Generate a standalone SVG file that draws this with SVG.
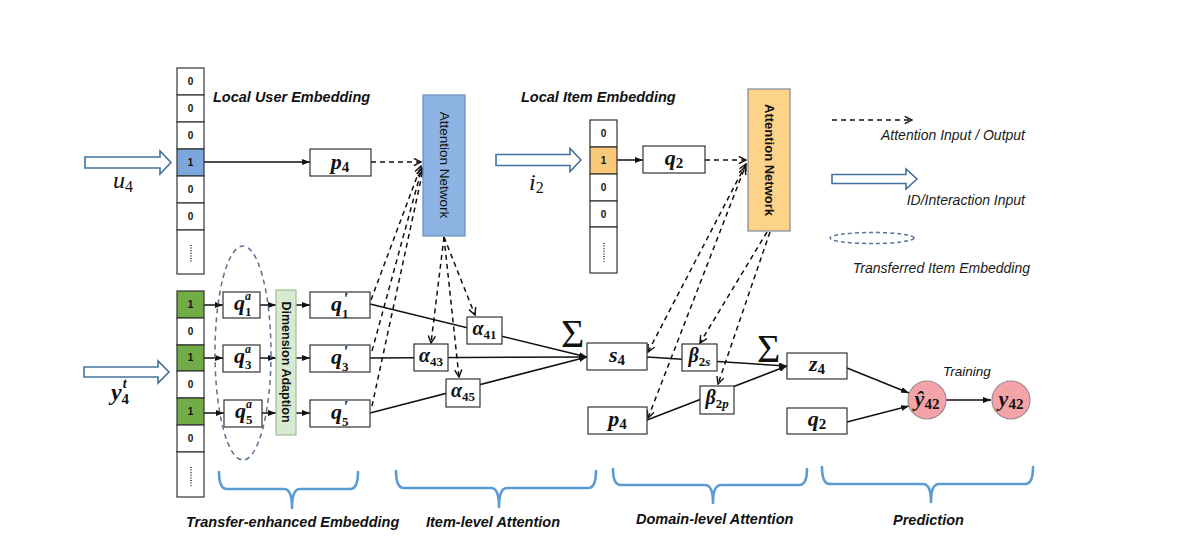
<svg xmlns="http://www.w3.org/2000/svg" width="1180" height="550" viewBox="0 0 1180 550">
<defs>
<style>
.bx{fill:#fff;stroke:#333;stroke-width:1.2}
.cell{fill:#fff;stroke:#333;stroke-width:1.2}
.dg{font-family:"Liberation Sans",Arial,sans-serif;font-weight:bold;font-size:10px;fill:#111;text-anchor:middle}
.m{font-family:"Liberation Serif","DejaVu Serif",serif;font-weight:bold;font-style:italic;font-size:22px;fill:#111;text-anchor:middle}
.sb{font-size:15px;font-style:normal}
.si{font-size:14px}
.qm{font-family:"Liberation Serif","DejaVu Serif",serif;font-weight:bold;font-style:italic;font-size:22px;fill:#111;text-anchor:end}
.sup{font-family:"Liberation Serif","DejaVu Serif",serif;font-weight:bold;font-style:italic;font-size:12px;fill:#111}
.pr{font-family:"Liberation Serif","DejaVu Serif",serif;font-weight:bold;font-style:italic;font-size:17px;fill:#111}
.sub{font-family:"Liberation Serif","DejaVu Serif",serif;font-weight:bold;font-size:13px;fill:#111}
.lbl{font-family:"Liberation Sans",Arial,sans-serif;font-weight:bold;font-style:italic;font-size:14.5px;fill:#111}
.leg{font-family:"Liberation Sans",Arial,sans-serif;font-style:italic;font-size:14px;fill:#1a1a1a;text-anchor:end}
.sl{stroke:#111;stroke-width:1.5;fill:none;marker-end:url(#a)}
.dl{stroke:#111;stroke-width:1.5;fill:none;stroke-dasharray:5,4;marker-end:url(#d)}
.hol{fill:#fff;stroke:#41719c;stroke-width:1.6}
.br{fill:none;stroke:#5b9bd5;stroke-width:2.6;stroke-linecap:round;stroke-linejoin:round}
.dots{stroke:#333;stroke-width:1.6;stroke-dasharray:1,1.6}
.sig{font-family:"Liberation Serif","DejaVu Serif",serif;font-size:40px;fill:#111}
</style>
<marker id="a" viewBox="0 0 8 6" refX="8" refY="3" markerWidth="8" markerHeight="6" markerUnits="userSpaceOnUse" orient="auto"><path d="M0,0 L8,3 L0,6 z" fill="#111"/></marker>
<marker id="d" viewBox="0 0 10 10" refX="9" refY="5" markerWidth="9" markerHeight="9" markerUnits="userSpaceOnUse" orient="auto"><path d="M1,1 L9,5 L1,9" fill="none" stroke="#111" stroke-width="1.6"/></marker>
<marker id="ds" viewBox="0 0 10 10" refX="1" refY="5" markerWidth="9" markerHeight="9" markerUnits="userSpaceOnUse" orient="auto"><path d="M9,1 L1,5 L9,9" fill="none" stroke="#111" stroke-width="1.6"/></marker>
</defs>
<rect width="1180" height="550" fill="#fff"/>

<g id="connectors">
<line class="sl" x1="204" y1="162" x2="310" y2="162"/>
<line class="sl" x1="617" y1="160" x2="643" y2="160"/>
<line class="sl" x1="204" y1="305" x2="223" y2="305"/>
<line class="sl" x1="204" y1="358" x2="223" y2="358"/>
<line class="sl" x1="204" y1="413" x2="224" y2="413"/>
<line class="sl" x1="260" y1="305" x2="276" y2="305"/>
<line class="sl" x1="260" y1="358" x2="276" y2="358"/>
<line class="sl" x1="262" y1="413" x2="276" y2="413"/>
<line class="sl" x1="296" y1="305" x2="310" y2="305"/>
<line class="sl" x1="296" y1="358" x2="310" y2="358"/>
<line class="sl" x1="296" y1="413" x2="310" y2="413"/>
<line class="sl" x1="370" y1="304" x2="587" y2="357"/>
<line class="sl" x1="370" y1="358" x2="587" y2="357"/>
<line class="sl" x1="370" y1="413" x2="587" y2="357"/>
<line class="sl" x1="647" y1="357" x2="787" y2="366"/>
<line class="sl" x1="647" y1="420" x2="787" y2="366"/>
<line class="sl" x1="847" y1="368" x2="909" y2="393"/>
<line class="sl" x1="847" y1="422" x2="909" y2="406"/>
<line class="sl" x1="946" y1="400" x2="991" y2="400"/>
<line class="dl" x1="371" y1="162" x2="421" y2="162"/>
<line class="dl" x1="371" y1="300" x2="421" y2="166"/>
<line class="dl" x1="372" y1="351" x2="422" y2="168"/>
<line class="dl" x1="372" y1="406" x2="423" y2="170"/>
<line class="dl" x1="444" y1="237" x2="475" y2="315"/>
<line class="dl" x1="444" y1="237" x2="431" y2="343"/>
<line class="dl" x1="444" y1="237" x2="459" y2="377"/>
<line class="dl" x1="705" y1="160" x2="746" y2="160"/>
<line class="dl" x1="648" y1="352" x2="746" y2="164" marker-start="url(#ds)"/>
<line class="dl" x1="648" y1="418" x2="745" y2="167" marker-start="url(#ds)"/>
<line class="dl" x1="767" y1="232" x2="700" y2="343"/>
<line class="dl" x1="770" y1="232" x2="718" y2="384"/>
</g>

<g id="legend">
<line class="dl" x1="832" y1="120" x2="912" y2="120"/>
<text class="leg" x="1025" y="140">Attention Input / Output</text>
<path class="hol" d="M832,174.5 H906 V169 L917,179 L906,189 V183.5 H832 Z"/>
<text class="leg" x="1025" y="205">ID/Interaction Input</text>
<ellipse cx="872" cy="238" rx="42" ry="5.5" fill="none" stroke="#5a7394" stroke-width="1.5" stroke-dasharray="4,3"/>
<text class="leg" x="1030" y="273">Transferred Item Embedding</text>
</g>

<g id="user-input">
<path class="hol" d="M85,157 H160 V151 L171,162.5 L160,174 V168 H85 Z"/>
<text x="113" y="188" font-family="Liberation Serif,serif" font-style="italic" font-size="24" fill="#111">u<tspan font-style="normal" font-size="16" dy="4">4</tspan></text>
</g>

<g id="user-vector">
<rect class="cell" x="177" y="68" width="27" height="27"/>
<rect class="cell" x="177" y="95" width="27" height="27"/>
<rect class="cell" x="177" y="122" width="27" height="27"/>
<rect class="cell" x="177" y="149" width="27" height="27" style="fill:#7ba7dc"/>
<rect class="cell" x="177" y="176" width="27" height="27"/>
<rect class="cell" x="177" y="203" width="27" height="27"/>
<rect class="cell" x="177" y="230" width="27" height="44"/>
<text class="dg" x="190.5" y="85">0</text>
<text class="dg" x="190.5" y="112">0</text>
<text class="dg" x="190.5" y="139">0</text>
<text class="dg" x="190.5" y="166">1</text>
<text class="dg" x="190.5" y="193">0</text>
<text class="dg" x="190.5" y="220">0</text>
<line class="dots" x1="191" y1="245" x2="191" y2="263"/>
<text class="lbl" x="213" y="102">Local User Embedding</text>
</g>

<g id="p4-top"><rect class="bx" x="310" y="149" width="61" height="27"/><text class="m" x="340" y="169">p<tspan class="sb" dy="3">4</tspan></text></g>

<g id="attention-user">
<rect x="423" y="95" width="42" height="141" fill="#8db4e2" stroke="#6a8cb8" stroke-width="1.2"/>
<text transform="translate(444,165) rotate(90)" text-anchor="middle" dy="4.5" font-family="Liberation Sans,Arial,sans-serif" font-size="13.5" fill="#111">Attention Network</text>
</g>

<g id="item-input">
<text class="lbl" x="521" y="102">Local Item Embedding</text>
<path class="hol" d="M496,154.5 H570 V148.5 L581,160 L570,171.5 V165.5 H496 Z"/>
<text x="529" y="190" font-family="Liberation Serif,serif" font-style="italic" font-size="24" fill="#111">i<tspan font-style="normal" font-size="16" dy="3">2</tspan></text>
</g>

<g id="item-vector">
<rect class="cell" x="590" y="120" width="27" height="27"/>
<rect class="cell" x="590" y="147" width="27" height="27" style="fill:#f9c978"/>
<rect class="cell" x="590" y="174" width="27" height="27"/>
<rect class="cell" x="590" y="201" width="27" height="26"/>
<rect class="cell" x="590" y="227" width="27" height="46"/>
<text class="dg" x="603.5" y="137">0</text>
<text class="dg" x="603.5" y="164">1</text>
<text class="dg" x="603.5" y="191">0</text>
<text class="dg" x="603.5" y="218">0</text>
<line class="dots" x1="604" y1="243" x2="604" y2="262"/>
</g>

<g id="q2-top"><rect class="bx" x="643" y="146" width="62" height="27"/><text class="m" x="674" y="165">q<tspan class="sb" dy="3">2</tspan></text></g>

<g id="attention-item">
<rect x="748" y="89" width="42" height="142" fill="#fdd38a" stroke="#7f8a9a" stroke-width="1.2"/>
<text transform="translate(769,160) rotate(90)" text-anchor="middle" dy="4.5" font-family="Liberation Sans,Arial,sans-serif" font-size="13" font-weight="bold" fill="#111">Attention Network</text>
</g>

<g id="interaction-input">
<path class="hol" d="M84,367 H158 V361 L169,372 L158,383 V377 H84 Z"/>
<text x="111" y="400" class="m" style="text-anchor:start;font-size:24px">y<tspan class="si" dy="-12" dx="1">t</tspan><tspan class="sb" dx="-5" dy="16">4</tspan></text>
</g>

<g id="interaction-vector">
<rect class="cell" x="177" y="291" width="27" height="27" style="fill:#70ad47"/>
<rect class="cell" x="177" y="318" width="27" height="27"/>
<rect class="cell" x="177" y="345" width="27" height="26" style="fill:#70ad47"/>
<rect class="cell" x="177" y="371" width="27" height="27"/>
<rect class="cell" x="177" y="398" width="27" height="27" style="fill:#70ad47"/>
<rect class="cell" x="177" y="425" width="27" height="27"/>
<rect class="cell" x="177" y="452" width="27" height="45"/>
<text class="dg" x="190.5" y="308">1</text>
<text class="dg" x="190.5" y="335">0</text>
<text class="dg" x="190.5" y="361">1</text>
<text class="dg" x="190.5" y="388">0</text>
<text class="dg" x="190.5" y="415">1</text>
<text class="dg" x="190.5" y="442">0</text>
<line class="dots" x1="191" y1="467" x2="191" y2="486"/>
</g>

<g id="transferred-embeddings">
<g id="q1a"><rect class="bx" x="223" y="292" width="37" height="26"/>
<text class="qm" x="245" y="310">q</text><text class="sup" x="245" y="300">a</text><text class="sub" x="245" y="316">1</text></g>
<g id="q3a"><rect class="bx" x="223" y="345" width="37" height="27"/>
<text class="qm" x="245" y="363">q</text><text class="sup" x="245" y="353">a</text><text class="sub" x="245" y="369">3</text></g>
<g id="q5a"><rect class="bx" x="224" y="400" width="38" height="27"/>
<text class="qm" x="246" y="418">q</text><text class="sup" x="246" y="408">a</text><text class="sub" x="246" y="424">5</text></g>
<ellipse cx="243" cy="353" rx="28" ry="107" fill="none" stroke="#5a7394" stroke-width="1.5" stroke-dasharray="5,4"/>
</g>

<g id="dimension-adaption">
<rect x="276" y="290" width="20" height="145" fill="#d9ead3" stroke="#9cbf95" stroke-width="1.2"/>
<text transform="translate(286,362) rotate(90)" text-anchor="middle" dy="4.5" font-family="Liberation Sans,Arial,sans-serif" font-size="12.5" font-weight="bold" fill="#111">Dimension Adaption</text>
</g>

<g id="q-prime">
<g id="q1p"><rect class="bx" x="310" y="292" width="60" height="26"/>
<text class="qm" x="342" y="311">q</text><text class="pr" x="343" y="304">'</text><text class="sub" x="342" y="318">1</text></g>
<g id="q3p"><rect class="bx" x="310" y="345" width="60" height="27"/>
<text class="qm" x="342" y="364">q</text><text class="pr" x="343" y="357">'</text><text class="sub" x="342" y="371">3</text></g>
<g id="q5p"><rect class="bx" x="310" y="400" width="60" height="27"/>
<text class="qm" x="342" y="419">q</text><text class="pr" x="343" y="412">'</text><text class="sub" x="342" y="426">5</text></g>
</g>

<g id="alpha41"><rect class="bx" x="467" y="317" width="35" height="27"/><text class="m" x="484.5" y="335" style="font-size:20px">α<tspan class="sb" style="font-size:13px" dy="4">41</tspan></text></g>
<g id="alpha43"><rect class="bx" x="414" y="344" width="34" height="27"/><text class="m" x="431" y="362" style="font-size:20px">α<tspan class="sb" style="font-size:13px" dy="4">43</tspan></text></g>
<g id="alpha45"><rect class="bx" x="446" y="379" width="34" height="28"/><text class="m" x="463" y="397" style="font-size:20px">α<tspan class="sb" style="font-size:13px" dy="4">45</tspan></text></g>

<g id="sum1"><text class="sig" x="561" y="347">Σ</text></g>

<g id="s4"><rect class="bx" x="587" y="343" width="60" height="27"/><text class="m" x="617" y="362">s<tspan class="sb" dy="3">4</tspan></text></g>
<g id="p4-bottom"><rect class="bx" x="588" y="407" width="59" height="27"/><text class="m" x="617.5" y="426">p<tspan class="sb" dy="3">4</tspan></text></g>

<g id="beta2s"><rect class="bx" x="682" y="344" width="35" height="27"/><text class="m" x="699.5" y="362" style="font-size:20px">β<tspan class="sb" style="font-size:13px" dy="4">2<tspan font-style="italic">s</tspan></tspan></text></g>
<g id="beta2p"><rect class="bx" x="700" y="386" width="34" height="28"/><text class="m" x="717" y="404" style="font-size:20px">β<tspan class="sb" style="font-size:13px" dy="4">2<tspan font-style="italic">p</tspan></tspan></text></g>

<g id="sum2"><text class="sig" x="757" y="362">Σ</text></g>

<g id="z4"><rect class="bx" x="787" y="353" width="60" height="26"/><text class="m" x="817" y="371">z<tspan class="sb" dy="3">4</tspan></text></g>
<g id="q2-bottom"><rect class="bx" x="787" y="408" width="60" height="26"/><text class="m" x="817" y="426">q<tspan class="sb" dy="3">2</tspan></text></g>

<g id="y-hat"><circle cx="927" cy="400" r="19" fill="#f4a4a9" stroke="#9b8a8f" stroke-width="1.2"/><text class="m" x="927" y="406">ŷ<tspan class="sb" dy="3">42</tspan></text></g>
<g id="y-true"><circle cx="1011" cy="400" r="19" fill="#f4a4a9" stroke="#9b8a8f" stroke-width="1.2"/><text class="m" x="1011" y="406">y<tspan class="sb" dy="3">42</tspan></text></g>
<text x="943" y="376" font-family="Liberation Sans,Arial,sans-serif" font-style="italic" font-size="13.5" fill="#111">Training</text>

<g id="brackets">
<path class="br" d="M219,472 Q219,489 227,489 H284 Q292,489 292,508 Q292,489 300,489 H350 Q358,489 358,472"/>
<path class="br" d="M396,471 Q396,488 404,488 H491 Q499,488 499,507 Q499,488 507,488 H588 Q596,488 596,471"/>
<path class="br" d="M613,469 Q613,485 621,485 H705 Q713,485 713,503 Q713,485 721,485 H799 Q807,485 807,469"/>
<path class="br" d="M822,467 Q822,484 830,484 H923 Q931,484 931,502 Q931,484 939,484 H1025 Q1033,484 1033,467"/>
<text class="lbl" x="186" y="527">Transfer-enhanced Embedding</text>
<text class="lbl" x="426" y="527">Item-level Attention</text>
<text class="lbl" x="636" y="524">Domain-level Attention</text>
<text class="lbl" x="893" y="525">Prediction</text>
</g>
</svg>
